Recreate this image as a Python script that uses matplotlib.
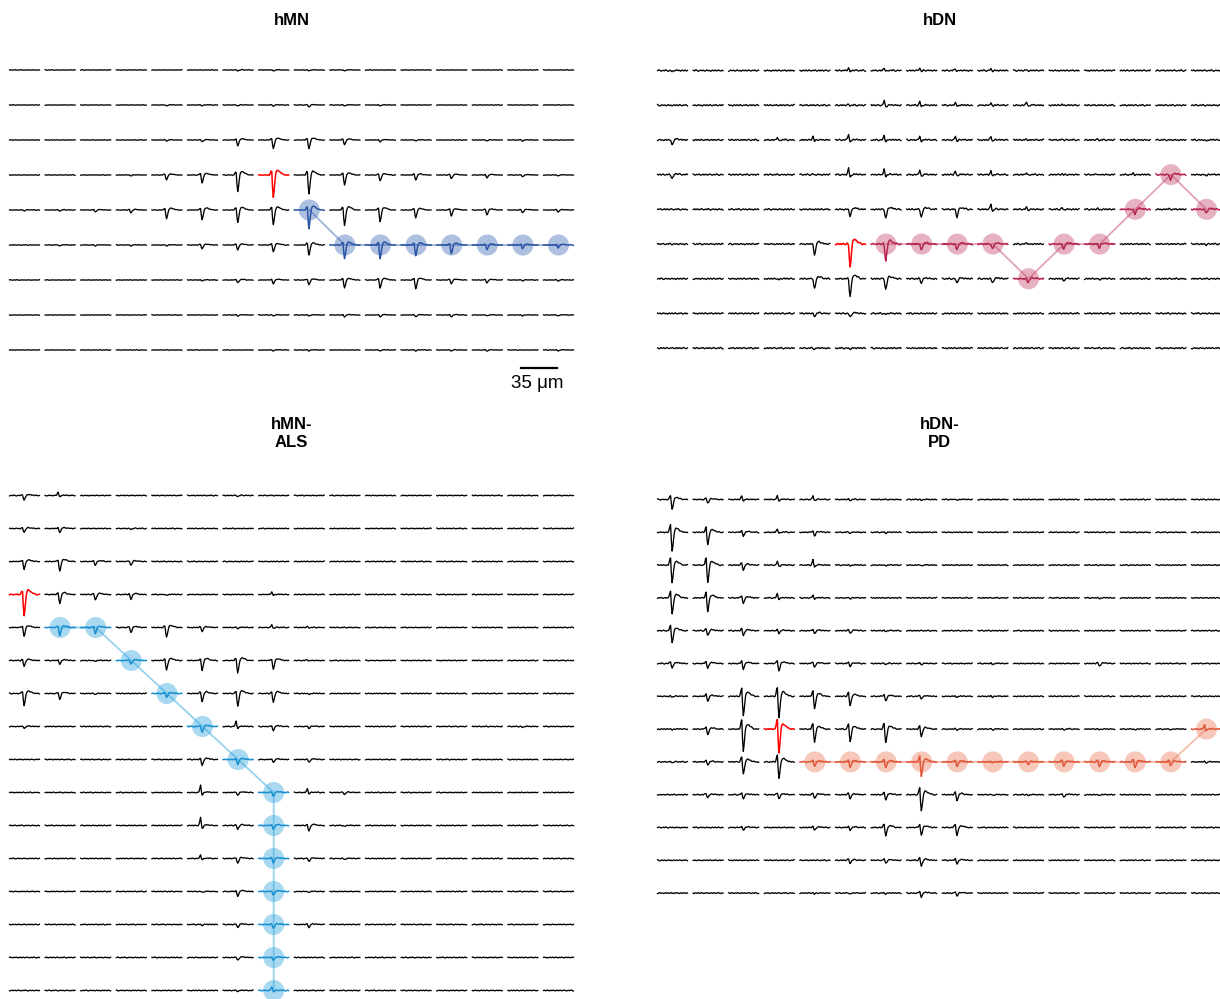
import numpy as np
import matplotlib
matplotlib.use("Agg")
import matplotlib.pyplot as plt

plt.rcParams['font.family'] = ['Liberation Sans', 'DejaVu Sans']

# ---------------- data ----------------
# spike amplitude per electrode, in pixels of the original picture
# (>0: trough-dominant spike depth, <0: peak-dominant spike height)
hmn_amp = [
    [0, 0, 0, 0, 0, 0, 1, 1, 1, 1, 0, 0, 0, 0, 0, 0],
    [0, 0, 0, 0, 1, 1, 1, 1, 2, 1, 1, 0, 0, 0, 0, 0],
    [0, 0, 0, 0, 1, 2, 6, 9, 9, 5, 2, 1, 0, 1, 1, 0],
    [0, 0, 0, 1, 5, 8, 17, 23, 19, 10, 6, 5, 4, 3, 2, 1],
    [1, 1, 2, 3, 9, 10, 13, 15, 19, 16, 12, 8, 6, 5, 3, 2],
    [0, 1, 1, 1, 1, 4, 5, 7, 10, 14, 14, 11, 9, 5, 4, 3],
    [0, 0, 0, 0, 0, 1, 3, 4, 5, 8, 8, 9, 4, 3, 1, 1],
    [0, 0, 0, 0, 0, 0, 1, 1, 1, 2, 2, 2, 2, 1, 1, 1],
    [0, 0, 0, 0, 0, 0, 0, 1, 1, 0, 1, 1, 1, 1, 0, 1],
]
hdn_amp = [
    [1, 0, 0, 0, 0, -3, -3, -3, -2, -2, -1, 0, 0, 0, 0, 0],
    [0, 0, 0, 0, 0, -1, -5, -4, -3, -3, -4, -1, 0, 0, 0, 0],
    [5, 0, 0, -3, -4, -7, -5, -4, -4, -4, -1, -1, -1, 0, 0, 1],
    [4, 0, 0, 0, -1, -7, -6, -5, -4, -4, -2, -1, -1, -2, 5, 1],
    [0, 0, 0, 0, 0, 7, 9, 8, 8, -6, -2, -2, -1, 5, -1, 4],
    [0, 0, 0, 0, 11, 23, 17, 6, 6, 5, -2, 5, 4, 0, 0, 1],
    [0, 0, 0, 1, 10, 18, 11, 4, 4, 4, 4, 2, 1, 0, 0, 0],
    [0, 0, 0, 0, 3, 4, 1, 0, 0, 0, 0, 0, 0, 0, 0, 0],
    [0, 0, 0, 0, 1, 1, 0, 0, 0, 0, 0, 0, 0, 0, 0, 0],
]
als_amp = [
    [5, -4, 0, 0, 0, 0, 1, 0, 0, 0, 0, 0, 0, 0, 0, 0],
    [4, 4, 0, 1, 0, 0, 0, 0, 0, 0, 0, 0, 0, 0, 0, 0],
    [8, 10, 4, 4, 0, 0, 0, 0, 0, 0, 0, 0, 0, 0, 0, 0],
    [22, 9, 6, 5, 1, 0, 0, -3, 0, 0, 0, 0, 0, 0, 0, 0],
    [9, 8, 6, 5, 10, 4, 1, -3, -1, 0, 0, 0, 0, 0, 0, 0],
    [6, 4, 1, 4, 10, 10, 13, 9, -1, 0, 0, 0, 0, 0, 0, 0],
    [12, 6, 1, 0, 4, 8, 13, 9, 1, 0, 0, 0, 0, 0, 0, 0],
    [2, 0, 0, 0, 0, 6, -6, 4, 2, 0, 0, 0, 0, 0, 1, 0],
    [0, 0, 0, 0, 0, 6, 5, 3, 3, 0, 0, 0, 0, 0, 0, 0],
    [0, 0, 0, 0, 0, -8, 3, 4, -4, 2, 0, 0, 0, 0, 0, 0],
    [0, 0, 0, 0, 0, -9, 4, 4, 6, 1, 0, 0, 0, 0, 0, 0],
    [0, 0, 0, 0, 0, -4, 5, 4, 3, 1, 0, 0, 0, 0, 0, 0],
    [0, 0, 0, 0, 0, 1, 5, 4, 1, 0, 0, 0, 0, 0, 0, 0],
    [0, 0, 0, 0, 0, 1, 3, 4, 3, 0, 0, 0, 0, 0, 0, 0],
    [0, 0, 0, 0, 0, 0, 3, 3, 0, 0, 0, 0, 0, 0, 0, 0],
    [0, 0, 0, 0, 0, 0, 1, -4, 0, 0, 0, 0, 0, 0, 0, 0],
]
pd_amp = [
    [10, 4, -4, -4, -4, 1, 0, 1, 1, 0, 0, 0, 0, 0, 0, 0],
    [20, 13, 4, -4, 4, 1, 1, 0, 0, 0, 0, 0, 0, 0, 0, 0],
    [18, 18, 5, -4, -6, 1, 1, 1, 0, 0, 0, 0, 0, 0, 0, 0],
    [17, 14, 6, -5, -3, 1, 0, 0, 0, 0, 0, 0, 1, 0, 0, 0],
    [12, 5, 5, 3, 3, 3, 1, 0, 0, 0, 0, 0, 0, 0, 0, 0],
    [5, 5, 6, 8, 4, 3, 1, 1, 0, 1, 0, 0, 3, 0, 0, 0],
    [1, 5, 20, 22, 13, 10, 5, 3, 1, 1, 0, 0, 0, 0, 0, 0],
    [1, 6, 23, 25, 13, 13, 14, 8, 1, 1, 0, 1, 1, 1, 1, -5],
    [1, 3, 13, 17, 5, 6, 6, 15, 5, 1, 3, 4, 5, 6, 4, 1],
    [0, 3, 4, 4, 4, 4, 5, 17, 6, 1, 1, 3, 1, 0, 0, 0],
    [0, 0, 3, 0, 3, 3, 9, 8, 8, 0, 0, 0, 0, 0, 0, 0],
    [0, 0, 0, 0, 0, 3, 3, 6, 4, 0, 0, 0, 0, 0, 0, 0],
    [0, 0, 0, 0, 1, 1, 1, 4, 3, 0, 0, 0, 0, 0, 0, 0],
]

# initiation site (red) and propagation path (row, col)
hmn_origin = (3, 7)
hmn_path_rows = [4, 5, 5, 5, 5, 5, 5, 5]
hmn_path_cols = [8, 9, 10, 11, 12, 13, 14, 15]

hdn_origin = (5, 5)
hdn_path_rows = [5, 5, 5, 5, 6, 5, 5, 4, 3, 4]
hdn_path_cols = [6, 7, 8, 9, 10, 11, 12, 13, 14, 15]

als_origin = (3, 0)
als_path_rows = [4, 4, 5, 6, 7, 8, 9, 10, 11, 12, 13, 14, 15]
als_path_cols = [1, 2, 3, 4, 5, 6, 7, 7, 7, 7, 7, 7, 7]

pd_origin = (7, 3)
pd_path_rows = [8, 8, 8, 8, 8, 8, 8, 8, 8, 8, 8, 7]
pd_path_cols = [4, 5, 6, 7, 8, 9, 10, 11, 12, 13, 14, 15]

# waveform shapes (40 samples per trace)
TROUGH = [0] * 16 + [-0.08, -0.3, -0.75, -1.0, -0.7, -0.3, 0.02, 0.15, 0.2, 0.2,
                     0.18, 0.15, 0.12, 0.09, 0.07, 0.05, 0.03, 0.02, 0.01, 0, 0, 0, 0, 0]
PEAK = [0] * 15 + [0.15, 0.55, 1.0, 0.45, 0.05] + [0] * 20
NOISE = [0.3, -0.2, 0.5, 0.1, -0.6, -0.1, 0.4, 0.8, 0.2, -0.3, -0.7, -0.2, 0.3, 0.1, -0.4,
         0.6, 0.9, 0.2, -0.5, -0.9, -0.3, 0.2, 0.5, -0.1, -0.2, 0.4, 0.1, -0.6, -0.4, 0.3,
         0.7, 0.0, -0.3, 0.2, -0.1, -0.8, -0.2, 0.5, 0.3, -0.4, 0.1, 0.6, -0.2, -0.5, 0.2,
         0.8, 0.1, -0.3, -0.6, 0.0, 0.4, -0.2, 0.3, 0.7, -0.1, -0.7, -0.3, 0.2, 0.5, -0.4]

W, H = 1220, 999
fig = plt.figure(figsize=(W / 100, H / 100), dpi=100)

panels = [
    # layout in px: left, top, col pitch, row pitch; ratio = peak/trough; noise in px
    dict(title="hMN", amp=hmn_amp, origin=hmn_origin, prow=hmn_path_rows, pcol=hmn_path_cols,
         tc="#2a55a5", cc="#4069b5", left=6.7, top=52.5, dx=35.6, dy=35.0,
         ratio=0.45, noise=0.35, pad=20),
    dict(title="hDN", amp=hdn_amp, origin=hdn_origin, prow=hdn_path_rows, pcol=hdn_path_cols,
         tc="#b5274f", cc="#c5486e", left=654.7, top=53.2, dx=35.6, dy=34.7,
         ratio=0.2, noise=0.9, pad=20),
    dict(title="hMN-\nALS", amp=als_amp, origin=als_origin, prow=als_path_rows, pcol=als_path_cols,
         tc="#1a8fd0", cc="#31a6de", left=6.7, top=479.0, dx=35.6, dy=33.0,
         ratio=0.42, noise=0.55, pad=23),
    dict(title="hDN-\nPD", amp=pd_amp, origin=pd_origin, prow=pd_path_rows, pcol=pd_path_cols,
         tc="#e0583a", cc="#ec7a5c", left=654.7, top=483.1, dx=35.6, dy=32.8,
         ratio=0.7, noise=0.65, pad=26),
]

tx = np.linspace(-0.42, 0.42, 40)
trough = np.array(TROUGH)
peak = np.array(PEAK)
noise = np.array(NOISE)

for k, p in enumerate(panels):
    amp = np.array(p["amp"], dtype=float)
    nr, nc = amp.shape
    w_px, h_px = nc * p["dx"], nr * p["dy"]
    ax = fig.add_axes([p["left"] / W, 1 - (p["top"] + h_px) / H, w_px / W, h_px / H])
    ax.set_xlim(-0.5, nc - 0.5)
    ax.set_ylim(nr - 0.5, -0.5)
    ax.axis("off")
    ax.set_title(p["title"], fontsize=12, fontweight="bold", pad=p["pad"], linespacing=1.25)

    path = set(zip(p["prow"], p["pcol"]))
    # path line and circles
    ax.plot(p["pcol"], p["prow"], color=p["cc"], alpha=0.5, lw=1.3, zorder=1)
    ax.scatter(p["pcol"], p["prow"], s=230, color=p["cc"], alpha=0.42,
               edgecolors="none", zorder=2, clip_on=False)

    for r in range(nr):
        for c in range(nc):
            a = amp[r, c]
            if a >= 0:
                v = a * trough + p["ratio"] * a * peak
            else:
                v = -a * peak + 0.35 * (-a) * trough
            shift = (r * 11 + c * 7 + k * 5) % len(noise)
            v = v + p["noise"] * np.roll(noise, -shift)[:40]
            y = r - v / p["dy"]
            if (r, c) == p["origin"]:
                col, lw, z = "#ff0000", 1.1, 4
            elif (r, c) in path:
                col, lw, z = p["tc"], 1.1, 3
            else:
                col, lw, z = "black", 0.95, 3
            ax.plot(c + tx, y, color=col, lw=lw, zorder=z, clip_on=False)

    if k == 0:
        # scale bar: one electrode pitch = 35 um
        ax.plot([13.95, 14.95], [8.5, 8.5], color="black", lw=1.6, clip_on=False)
        ax.text(14.4, 8.95, "35 μm", ha="center", va="center", fontsize=13.5)

fig.savefig("out.png", dpi=100)
